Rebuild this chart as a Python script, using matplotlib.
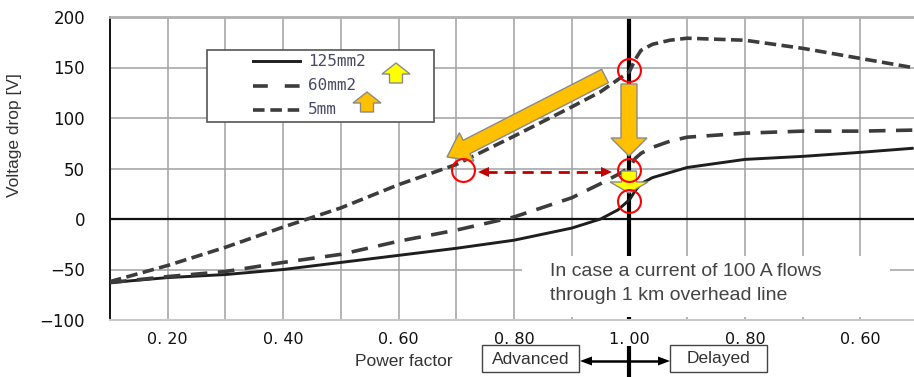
import numpy as np
import matplotlib
matplotlib.use("Agg")
import matplotlib.pyplot as plt
from matplotlib.patches import Polygon, Rectangle
from matplotlib.lines import Line2D

# Horizontal position on the axis: 0.1 .. 1.0 is leading (advanced) power factor,
# 1.0 .. 1.5 is lagging (delayed) power factor mirrored around unity.
position = [0.10, 0.20, 0.30, 0.40, 0.50, 0.60, 0.70, 0.80, 0.90, 0.95, 0.98,
            1.00, 1.01, 1.02, 1.04, 1.07, 1.10, 1.20, 1.30, 1.40, 1.49]

drop_125mm2 = [-63, -58, -55, -50, -43, -36, -29, -21, -9, 0, 9,
               19, 28, 35, 41, 46, 51, 59, 62, 66, 70]
drop_60mm2 = [-63, -57, -52, -43, -35, -22, -11, 2, 21, 35, 44,
              51, 60, 65, 71, 77, 81, 85, 87, 87, 88]
drop_5mm = [-62, -46, -28, -8, 11, 34, 54, 82, 111, 126, 138,
            146, 158, 167, 173, 177, 179, 177, 169, 159, 150]

series_labels = ["125mm2", "60mm2", "5mm"]

tick_pos = [0.2, 0.4, 0.6, 0.8, 1.0, 1.2, 1.4]
tick_labels = ["0. 20", "0. 40", "0. 60", "0. 80", "1. 00", "0. 80", "0. 60"]
grid_pos = [0.3, 0.5, 0.7, 0.9, 1.1, 1.3]
y_ticks = [-100, -50, 0, 50, 100, 150, 200]

W, H = 914, 377
fig = plt.figure(figsize=(W / 100, H / 100), dpi=100)
ax = fig.add_axes([110 / W, (H - 320) / H, (W - 110) / W, (320 - 17) / H])
ax.set_xlim(0.1, 1.493)
ax.set_ylim(-100, 200)

ax.set_xticks(tick_pos)
ax.set_xticklabels(tick_labels, fontsize=11.5, color="#111111")
ax.set_xticks(grid_pos, minor=True)
ax.set_yticks(y_ticks)
ax.set_yticklabels([f"{v}".replace("-", "\u2212") for v in y_ticks],
                   fontsize=12, color="#111111")
ax.tick_params(axis="both", which="both", length=0)
ax.tick_params(axis="x", pad=9)
ax.tick_params(axis="y", pad=18)
ax.grid(True, which="both", color="#a0a0a0", linewidth=1.1, zorder=0)
ax.set_axisbelow(True)

ax.spines["right"].set_visible(False)
ax.spines["top"].set_color("#b0b0b0")
ax.spines["top"].set_linewidth(2)
ax.spines["bottom"].set_color("#c8c8c8")
ax.spines["bottom"].set_linewidth(1.5)
ax.spines["left"].set_color("#111111")
ax.spines["left"].set_linewidth(1.4)

ax.axhline(0, color="#111111", linewidth=1.6, zorder=2)
ax.plot([1.0, 1.0], [-100, 200], color="#000000", linewidth=3, zorder=2,
        solid_capstyle="butt")

dash_60 = [4.6, 2.9]
dash_5 = [3.2, 1.5]
l1, = ax.plot(position, drop_125mm2, color="#1e1e1e", linewidth=2.1, zorder=3)
l2, = ax.plot(position, drop_60mm2, color="#3c3c3c", linewidth=2.6, zorder=3)
l2.set_dashes(dash_60)
l3, = ax.plot(position, drop_5mm, color="#3c3c3c", linewidth=2.6, zorder=3)
l3.set_dashes(dash_5)

fig.text(15 / W, 1 - 135 / H, "Voltage drop [V]", rotation=90, ha="center",
         va="center", fontsize=12.5, family="Liberation Sans", color="#333333")

# Overlay in figure pixel coordinates for callouts and labels
ov = fig.add_axes([0, 0, 1, 1], zorder=5)
ov.set_xlim(0, W)
ov.set_ylim(H, 0)
ov.axis("off")


def to_px(x, v):
    X, Y = ax.transData.transform((x, v))
    return X, H - Y


def arrow(x0, y0, x1, y1, shaft_w, head_w, head_len, face, edge="#8a8a8a", z=6):
    d = np.array([x1 - x0, y1 - y0], float)
    L = np.hypot(*d)
    u = d / L
    n = np.array([-u[1], u[0]])
    p0 = np.array([x0, y0], float)
    base = p0 + u * (L - head_len)
    tip = np.array([x1, y1], float)
    pts = [p0 + n * shaft_w / 2, base + n * shaft_w / 2, base + n * head_w / 2, tip,
           base - n * head_w / 2, base - n * shaft_w / 2, p0 - n * shaft_w / 2]
    ov.add_patch(Polygon(pts, closed=True, facecolor=face, edgecolor=edge,
                         linewidth=1, zorder=z))


# Legend box
ov.add_patch(Rectangle((207, 50), 227, 72, facecolor="white", edgecolor="#555555",
                       linewidth=1.2, zorder=6))
legend_lines = [l1, l2, l3]
legend_dashes = [None, [4.1, 4.7], [3.2, 1.6]]
for i, (line, lab, ds) in enumerate(zip(legend_lines, series_labels, legend_dashes)):
    yy = 61 + i * 24.5
    ln = Line2D([253, 300], [yy, yy], color=line.get_color(),
                linewidth=line.get_linewidth(), zorder=7)
    if ds is not None:
        ln.set_dashes(ds)
    ov.add_line(ln)
    ov.text(308, yy, lab, fontsize=11.5, family="DejaVu Sans Mono",
            color="#4a4a66", va="center", ha="left", zorder=7)
arrow(396, 83, 396, 63, 13, 28, 11, "#ffff00", z=8)
arrow(367, 112, 367, 92, 13, 28, 11, "#ffc000", z=8)

# Orange and yellow callout arrows
arrow(605, 76, 447, 157, 15, 32, 22, "#ffc000")
arrow(629, 84, 629, 156, 16, 36, 18, "#ffc000")
arrow(629, 171, 629, 193, 15, 38, 11, "#ffff00")

# Red markers on the curves
for (cx, cv) in [(1.0, 148), (0.712, 49), (1.0, 49), (1.0, 18)]:
    px, py = to_px(cx, cv)
    ov.plot([px], [py], marker="o", markersize=16.5, markerfacecolor="none",
            markeredgecolor="#ff0000", markeredgewidth=1.5, zorder=9)

# Dashed red double arrow between equal drops
ov.plot([486, 604], [172, 172], color="#c00000", linewidth=2, zorder=8,
        dashes=[4, 2.5])
ov.add_patch(Polygon([(478, 172), (489, 167), (489, 177)], facecolor="#c00000",
                     edgecolor="none", zorder=8))
ov.add_patch(Polygon([(612, 172), (601, 167), (601, 177)], facecolor="#c00000",
                     edgecolor="none", zorder=8))

# Note box
ov.add_patch(Rectangle((522, 256), 368, 61, facecolor="white", edgecolor="none",
                       zorder=6))
ov.text(550, 271, "In case a current of 100 A flows", fontsize=14, color="#444444",
        family="Liberation Sans", va="center", ha="left", zorder=7)
ov.text(550, 296, "through 1 km overhead line", fontsize=14, color="#444444",
        family="Liberation Sans", va="center", ha="left", zorder=7)

# Bottom labels
ov.text(355, 361, "Power factor", fontsize=12.5, color="#333333",
        family="Liberation Sans", va="center", ha="left")
ov.add_patch(Rectangle((482, 345), 97, 27, facecolor="white", edgecolor="#444444",
                       linewidth=1))
ov.text(530.5, 359, "Advanced", fontsize=12.5, color="#333333",
        family="Liberation Sans", va="center", ha="center")
ov.add_patch(Rectangle((670, 345), 97, 27, facecolor="white", edgecolor="#444444",
                       linewidth=1))
ov.text(718.5, 359, "Delayed", fontsize=12.5, color="#333333",
        family="Liberation Sans", va="center", ha="center")
ov.plot([590, 660], [361, 361], color="black", linewidth=1.8)
ov.add_patch(Polygon([(580, 361), (592, 356.5), (592, 365.5)], facecolor="black"))
ov.add_patch(Polygon([(670, 361), (658, 356.5), (658, 365.5)], facecolor="black"))
xl, _ = to_px(1.0, 0)
ov.plot([xl, xl], [346, 377], color="black", linewidth=3, solid_capstyle="butt")

fig.savefig("out.png", dpi=100)
